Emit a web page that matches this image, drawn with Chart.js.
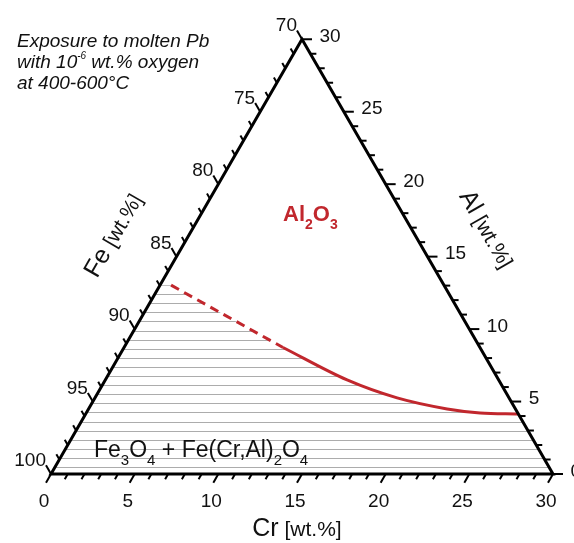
<!DOCTYPE html>
<html><head><meta charset="utf-8">
<script src="https://cdn.jsdelivr.net/npm/chart.js@4"></script>
<style>html,body{margin:0;padding:0;background:#fff;overflow:hidden}canvas{display:block}</style>
</head><body>
<canvas id="c" width="574" height="543"></canvas>
<script>
// ---- Data (ternary, wt.%: Cr and Al; Fe = 100 - Cr - Al) ----
const crMinorTicks = [0,1,2,3,4,5,6,7,8,9,10,11,12,13,14,15,16,17,18,19,20,21,22,23,24,25,26,27,28,29,30];
const crMajorTicks = [0,5,10,15,20,25,30];
const crTickLabels = ['0','5','10','15','20','25','30'];
const feMinorTicks = [100,99,98,97,96,95,94,93,92,91,90,89,88,87,86,85,84,83,82,81,80,79,78,77,76,75,74,73,72,71,70];
const feMajorTicks = [100,95,90,85,80,75,70];
const feTickLabels = ['100','95','90','85','80','75','70'];
const alMinorTicks = [0,1,2,3,4,5,6,7,8,9,10,11,12,13,14,15,16,17,18,19,20,21,22,23,24,25,26,27,28,29,30];
const alMajorTicks = [0,5,10,15,20,25,30];
const alTickLabels = ['0','5','10','15','20','25','30'];

// Boundary Al2O3 / spinel region (uncertain part dashed)
const dashedCr = [0.66, 9.5];
const dashedAl = [13.03, 8.73];
const solidCr = [9.5, 14.45, 18.06, 21.43, 23.54, 25.86];
const solidAl = [8.73, 6.49, 5.25, 4.49, 4.21, 4.14];

const RED = '#c1272d';
const S3 = Math.sqrt(3) / 2;
const toXY = (cr, al) => ({ x: cr + al / 2, y: al * S3 });

// hatch pattern (horizontal grey lines)
function makeHatch() {
  const c = document.createElement('canvas');
  c.width = 4; c.height = 91;
  const g = c.getContext('2d');
  g.fillStyle = '#acacac';
  for (let k = 0; k < 10; k++) {
    const r = (12 + Math.round(k * 9.1)) % 91;
    g.fillRect(0, r, 4, 1);
  }
  return g.createPattern(c, 'repeat');
}

const dashedPts = dashedCr.map((c, i) => toXY(c, dashedAl[i]));
const solidPts = solidCr.map((c, i) => toXY(c, solidAl[i]));
const fillPts = [toXY(0, 0), toXY(0, dashedAl[0])]
  .concat(dashedPts, solidPts.slice(1), [toXY(30, 0)]);

const PX = 16.733; // px per wt.%
const frame = {
  id: 'frame',
  afterDatasetsDraw(chart) {
    const { ctx, scales: { x, y } } = chart;
    const P = (cr, al) => [x.getPixelForValue(cr + al / 2), y.getPixelForValue(al * S3)];
    ctx.save();
    ctx.strokeStyle = '#000';
    ctx.lineCap = 'butt';
    // ticks
    ctx.lineWidth = 2;
    const tick = (p, d, len) => {
      ctx.beginPath();
      ctx.moveTo(p[0], p[1]);
      ctx.lineTo(p[0] + d[0] * len, p[1] + d[1] * len);
      ctx.stroke();
    };
    crMinorTicks.forEach(v => tick(P(v, 0), [-0.5, S3], crMajorTicks.includes(v) ? 10 : 6));
    feMinorTicks.forEach(v => tick(P(0, 100 - v), [-0.5, -S3], feMajorTicks.includes(v) ? 10 : 6));
    alMinorTicks.forEach(v => tick(P(30 - v, v), [1, 0], alMajorTicks.includes(v) ? 10 : 6));
    // triangle edges
    ctx.lineWidth = 3;
    ctx.lineJoin = 'miter';
    const a = P(0, 0), b = P(30, 0), c = P(0, 30);
    ctx.beginPath();
    ctx.moveTo(a[0], a[1]); ctx.lineTo(b[0], b[1]); ctx.lineTo(c[0], c[1]); ctx.closePath();
    ctx.stroke();

    // tick labels
    ctx.fillStyle = '#111';
    ctx.font = '19px "Liberation Sans", Arial, sans-serif';
    ctx.textBaseline = 'alphabetic';
    ctx.textAlign = 'center';
    crMajorTicks.forEach((v, i) => { const p = P(v, 0); ctx.fillText(crTickLabels[i], p[0] - 7, p[1] + 33); });
    ctx.textAlign = 'right';
    feMajorTicks.forEach((v, i) => { const p = P(0, 100 - v); ctx.fillText(feTickLabels[i], p[0] - 5, p[1] - 8); });
    ctx.textAlign = 'left';
    alMajorTicks.forEach((v, i) => { const p = P(30 - v, v); ctx.fillText(alTickLabels[i], p[0] + 17.5, p[1] + 2.5); });

    // mixed-size text helper
    const runs = (parts, x0, y0, align) => {
      let w = 0;
      parts.forEach(pt => { ctx.font = pt.f; w += ctx.measureText(pt.t).width + (pt.k || 0); });
      let xx = align === 'center' ? x0 - w / 2 : x0;
      ctx.textAlign = 'left';
      parts.forEach(pt => { ctx.font = pt.f; ctx.fillText(pt.t, xx, y0 + (pt.dy || 0)); xx += ctx.measureText(pt.t).width + (pt.k || 0); });
    };
    const F = (s, st) => (st || '') + ' ' + s + 'px "Liberation Sans", Arial, sans-serif';

    // axis titles
    runs([{ t: 'Cr', f: F(25) }, { t: ' [wt.%]', f: F(21) }], 297, 536, 'center');
    ctx.save();
    ctx.translate(113, 235); ctx.rotate(-Math.PI / 3);
    runs([{ t: 'Fe', f: F(25) }, { t: ' [wt.%]', f: F(21) }], 0, 8, 'center');
    ctx.restore();
    ctx.save();
    ctx.translate(487, 229); ctx.rotate(Math.PI / 3);
    runs([{ t: 'Al', f: F(25) }, { t: ' [wt.%]', f: F(21) }], 0, 8, 'center');
    ctx.restore();

    // region labels
    runs([{ t: 'Fe', f: F(23) }, { t: '3', f: F(15), dy: 8 }, { t: 'O', f: F(23) }, { t: '4', f: F(15), dy: 8 },
          { t: ' + Fe(Cr,Al)', f: F(23) }, { t: '2', f: F(15), dy: 8 }, { t: 'O', f: F(23) }, { t: '4', f: F(15), dy: 8 }], 94, 457, 'left');
    ctx.fillStyle = RED;
    runs([{ t: 'Al', f: F(22, 'bold') }, { t: '2', f: F(14, 'bold'), dy: 8 }, { t: 'O', f: F(22, 'bold') }, { t: '3', f: F(14, 'bold'), dy: 8 }], 283, 221, 'left');

    // note
    ctx.fillStyle = '#111';
    const it = s => 'italic ' + s + 'px "Liberation Sans", Arial, sans-serif';
    runs([{ t: 'Exposure to molten Pb', f: it(19) }], 17, 47, 'left');
    runs([{ t: 'with 10', f: it(19) }, { t: '-6', f: it(10), dy: -9 }, { t: ' wt.% oxygen', f: it(19) }], 17, 68, 'left');
    runs([{ t: 'at 400-600°C', f: it(19) }], 17, 89, 'left');
    ctx.restore();
  }
};

new Chart(document.getElementById('c'), {
  type: 'scatter',
  data: {
    datasets: [
      { data: solidPts, showLine: true, borderColor: RED, borderWidth: 3, cubicInterpolationMode: 'monotone', fill: false, pointRadius: 0, order: 1 },
      { data: dashedPts, showLine: true, borderColor: RED, borderWidth: 3, borderDash: [9, 6], fill: false, pointRadius: 0, order: 2 },
      { data: fillPts, showLine: true, borderWidth: 0, borderColor: 'rgba(0,0,0,0)', backgroundColor: makeHatch(), fill: 'origin', pointRadius: 0, tension: 0, order: 3 }
    ]
  },
  options: {
    responsive: false, animation: false, events: [],
    layout: { padding: 0 },
    plugins: { legend: { display: false }, tooltip: { enabled: false } },
    scales: {
      x: { type: 'linear', display: false, min: -51 / PX, max: (574 - 51) / PX },
      y: { type: 'linear', display: false, min: -(543 - 474) / PX, max: 474 / PX }
    }
  },
  plugins: [frame]
});
</script>
</body></html>
